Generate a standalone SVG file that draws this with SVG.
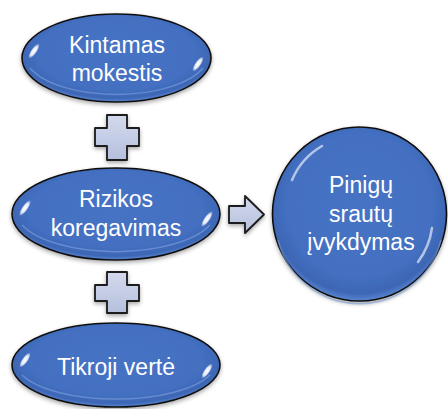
<svg xmlns="http://www.w3.org/2000/svg" width="448" height="409" viewBox="0 0 448 409">
  <defs>
    <radialGradient id="blue" cx="50%" cy="45%" r="55%">
      <stop offset="0" stop-color="#4673c4"/>
      <stop offset="0.75" stop-color="#4470c2"/>
      <stop offset="0.92" stop-color="#3d66b4"/>
      <stop offset="1" stop-color="#5a86d2"/>
    </radialGradient>
    <linearGradient id="light" x1="0" y1="0" x2="0" y2="1">
      <stop offset="0" stop-color="#d3d9ec"/>
      <stop offset="0.5" stop-color="#c5cde6"/>
      <stop offset="1" stop-color="#b5bfdc"/>
    </linearGradient>
    <radialGradient id="glint" cx="50%" cy="50%" r="50%">
      <stop offset="0" stop-color="#ffffff" stop-opacity="1"/>
      <stop offset="0.6" stop-color="#ffffff" stop-opacity="0.85"/>
      <stop offset="1" stop-color="#ffffff" stop-opacity="0"/>
    </radialGradient>
    <filter id="shadow" x="-20%" y="-20%" width="140%" height="150%">
      <feDropShadow dx="0" dy="2" stdDeviation="2" flood-color="#000" flood-opacity="0.35"/>
    </filter>
  </defs>
  <style>
    .node { fill: url(#blue); stroke: #111; stroke-width: 1.6; filter: url(#shadow); }
    .rim { fill: none; stroke: #7fa2e0; stroke-width: 1.5; opacity: 0.6; }
    .glint { fill: url(#glint); }
    .lbl { font-family: "Liberation Sans", Arial, sans-serif; font-size: 23px; fill: #ffffff; text-anchor: middle; }
    .conn { fill: url(#light); stroke: #1a1a1a; stroke-width: 1.8; stroke-linejoin: round; filter: url(#shadow); }
  </style>

  <g id="connectors">
    <path class="conn" d="M107,115 H127 V128 H139 V146 H127 V160 H107 V146 H95 V128 H107 Z"/>
    <path class="conn" d="M107,272 H127 V285 H139 V301 H127 V313 H107 V301 H95 V285 H107 Z"/>
    <path class="conn" d="M229,206 H245 V196 L264,214.5 L245,233 V223 H229 Z"/>
  </g>

  <g id="node-kintamas">
    <ellipse class="node" cx="116.5" cy="58" rx="94.5" ry="44"/>
    <path class="rim" d="M30,68 A92,40 0 0 0 203,68"/>
    <ellipse class="glint" cx="34" cy="51" rx="3" ry="9" transform="rotate(35 34 51)"/>
    <ellipse class="glint" cx="198" cy="64" rx="3" ry="9" transform="rotate(35 198 64)"/>
    <text class="lbl" x="117" y="53">Kintamas</text>
    <text class="lbl" x="117" y="81">mokestis</text>
  </g>

  <g id="node-rizikos">
    <ellipse class="node" cx="116" cy="214" rx="104" ry="46"/>
    <path class="rim" d="M22,225 A101,42 0 0 0 210,225"/>
    <ellipse class="glint" cx="25" cy="208" rx="3" ry="9.5" transform="rotate(35 25 208)"/>
    <ellipse class="glint" cx="207" cy="219" rx="3" ry="9.5" transform="rotate(35 207 219)"/>
    <text class="lbl" x="116" y="207">Rizikos</text>
    <text class="lbl" x="116" y="236">koregavimas</text>
  </g>

  <g id="node-tikroji">
    <ellipse class="node" cx="116" cy="365" rx="104" ry="42"/>
    <path class="rim" d="M22,375 A101,38 0 0 0 210,375"/>
    <ellipse class="glint" cx="25" cy="360" rx="3" ry="9" transform="rotate(35 25 360)"/>
    <ellipse class="glint" cx="207" cy="371" rx="3" ry="9" transform="rotate(35 207 371)"/>
    <text class="lbl" x="116" y="375">Tikroji vertė</text>
  </g>

  <g id="node-pinigu">
    <circle class="node" cx="359.5" cy="214" r="87"/>
    <path class="rim" d="M278,240 A84,84 0 0 0 441,240"/>
    <path d="M292,180 A72,72 0 0 1 322,146" fill="none" stroke="#ffffff" stroke-width="2.5" stroke-linecap="round" opacity="0.6"/>
    <path d="M432,228 A74,74 0 0 1 418,262" fill="none" stroke="#ffffff" stroke-width="2.5" stroke-linecap="round" opacity="0.6"/>
    <text class="lbl" x="361" y="193">Pinigų</text>
    <text class="lbl" x="361" y="222">srautų</text>
    <text class="lbl" x="361" y="250">įvykdymas</text>
  </g>
</svg>
